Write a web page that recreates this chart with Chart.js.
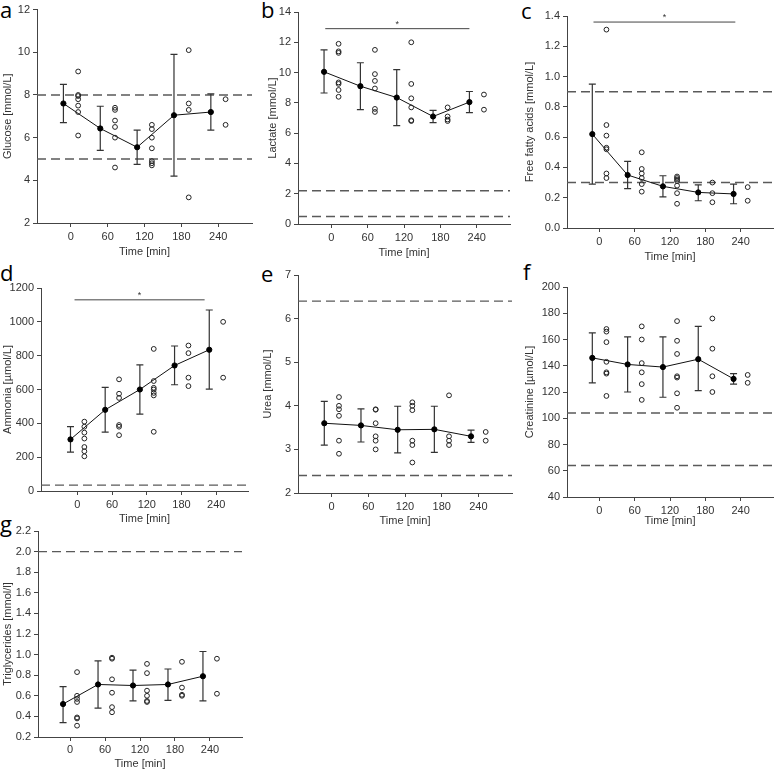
<!DOCTYPE html>
<html>
<head>
<meta charset="utf-8">
<script src="https://cdn.jsdelivr.net/npm/chart.js@4.4.0/dist/chart.umd.min.js"></script>
<style>
  body { margin: 0; background: #fff; width: 778px; height: 771px; position: relative; overflow: hidden; }
  canvas { position: absolute; }
  .letter { position: absolute; font-family: "Open Sans", "Liberation Sans", sans-serif; font-size: 22px; line-height: 22px; color: #000; }
</style>
</head>
<body>
<div class="letter" style="left:0px;top:-2px">a</div>
<div class="letter" style="left:261px;top:-2px">b</div>
<div class="letter" style="left:521px;top:-1px">c</div>
<div class="letter" style="left:0px;top:261px">d</div>
<div class="letter" style="left:261px;top:262px">e</div>
<div class="letter" style="left:523px;top:260px">f</div>
<div class="letter" style="left:0px;top:512px">g</div>

<script>
// sampling times, means are drawn a bit left of the tick, single values a bit right
const times = [0, 60, 120, 180, 240];
const meanShift = -12;
const dotShift = 12;

// a - glucose
const glucoseMean = [7.6, 6.43, 5.55, 7.05, 7.2];
const glucoseLo = [6.7, 5.4, 4.75, 4.2, 6.35];
const glucoseHi = [8.5, 7.47, 6.35, 9.9, 8.05];
const glucoseDots = [[9.1, 8.0, 7.95, 7.8, 7.5, 7.2, 6.1], [7.4, 7.3, 6.8, 6.5, 6.0, 4.6], [6.6, 6.4, 6.0, 5.5, 4.9, 4.8, 4.7], [10.1, 7.6, 7.3, 3.2], [7.8, 6.6]];
const glucoseRefs = [8, 5];

// b - lactate
const lactateMean = [10.05, 9.1, 8.35, 7.1, 8.05];
const lactateLo = [8.65, 7.55, 6.5, 6.7, 7.35];
const lactateHi = [11.5, 10.65, 10.2, 7.5, 8.75];
const lactateDots = [[11.9, 11.4, 11.3, 9.35, 9.25, 8.85, 8.4], [11.5, 9.9, 9.45, 8.95, 7.6, 7.4], [12.0, 9.25, 8.3, 7.7, 6.85, 6.8], [7.7, 7.1, 6.9, 6.8], [8.55, 7.55]];
const lactateRefs = [2.2, 0.5];

// c - free fatty acids
const ffaMean = [0.62, 0.35, 0.275, 0.235, 0.225];
const ffaLo = [0.29, 0.26, 0.205, 0.18, 0.16];
const ffaHi = [0.95, 0.44, 0.345, 0.285, 0.29];
const ffaDots = [[1.31, 0.68, 0.61, 0.53, 0.52, 0.36, 0.33], [0.5, 0.39, 0.36, 0.33, 0.29, 0.24], [0.34, 0.33, 0.32, 0.31, 0.28, 0.23, 0.16], [0.3, 0.23, 0.17], [0.27, 0.18]];
const ffaRefs = [0.9, 0.3];

// d - ammonia
const ammoniaMean = [305, 480, 600, 742, 835];
const ammoniaLo = [230, 348, 455, 628, 602];
const ammoniaHi = [380, 612, 745, 857, 1070];
const ammoniaDots = [[410, 380, 345, 310, 260, 235, 205], [660, 575, 550, 390, 380, 330], [840, 650, 610, 600, 580, 565, 350], [860, 815, 670, 620], [1000, 670]];
const ammoniaRefs = [35];

// e - urea
const ureaMean = [3.6, 3.55, 3.45, 3.46, 3.3];
const ureaLo = [3.1, 3.17, 2.92, 2.93, 3.16];
const ureaHi = [4.1, 3.93, 3.99, 3.99, 3.44];
const ureaDots = [[4.2, 4.0, 3.92, 3.77, 3.2, 2.9], [3.92, 3.91, 3.6, 3.3, 3.2, 3.0], [4.08, 4.0, 3.9, 3.2, 3.1, 2.7], [4.24, 3.3, 3.2, 3.1], [3.4, 3.2]];
const ureaRefs = [6.4, 2.4];

// f - creatinine
const creatMean = [146, 141, 139, 145, 130];
const creatLo = [127, 120, 116, 121, 126];
const creatHi = [165, 162, 162, 170, 134];
const creatDots = [[168, 166, 158, 143, 135, 134, 117], [170, 160, 142, 135, 126, 114], [174, 159, 149, 132, 131, 119, 108], [176, 153, 132, 120], [133, 127]];
const creatRefs = [104, 64];

// g - triglycerides
const trigMean = [0.52, 0.71, 0.7, 0.71, 0.79];
const trigLo = [0.34, 0.48, 0.55, 0.555, 0.55];
const trigHi = [0.69, 0.94, 0.85, 0.86, 1.03];
const trigDots = [[0.83, 0.6, 0.57, 0.54, 0.39, 0.38, 0.31], [0.97, 0.96, 0.76, 0.63, 0.49, 0.44], [0.91, 0.82, 0.65, 0.6, 0.55, 0.54], [0.93, 0.68, 0.61, 0.6], [0.96, 0.62]];
const trigRefs = [2.0];

// panel layout: canvas corner (cl, ct) and plot area (L, T, R, B) in page pixels
const panels = [
  { cl: 0, ct: 0, L: 37, T: 7, R: 255, B: 223, xh: 38, tpad: 1, title: 'Glucose [mmol/L]', ymin: 2, ymax: 12, step: 2, dec: 0,
    mean: glucoseMean, lo: glucoseLo, hi: glucoseHi, dots: glucoseDots, refs: glucoseRefs },
  { cl: 258, ct: 0, L: 298, T: 12, R: 513, B: 224, xh: 38, tpad: 8, title: 'Lactate [mmol/L]', ymin: 0, ymax: 14, step: 2, dec: 0,
    mean: lactateMean, lo: lactateLo, hi: lactateHi, dots: lactateDots, refs: lactateRefs, sig: { y: 12.9, x0: -10, x1: 228 } },
  { cl: 518, ct: 0, L: 567, T: 16, R: 776, B: 228, xh: 38, tpad: 5, title: 'Free fatty acids [mmol/L]', ymin: 0, ymax: 1.4, step: 0.2, dec: 1,
    mean: ffaMean, lo: ffaLo, hi: ffaHi, dots: ffaDots, refs: ffaRefs, sig: { y: 1.36, x0: -10, x1: 231 } },
  { cl: 0, ct: 250, L: 41, T: 288, R: 251, B: 491, xh: 37, tpad: 1, xmin: -63, title: 'Ammonia [\u00b5mol/L]', ymin: 0, ymax: 1200, step: 200, dec: 0,
    mean: ammoniaMean, lo: ammoniaLo, hi: ammoniaHi, dots: ammoniaDots, refs: ammoniaRefs, sig: { y: 1130, x0: -5, x1: 220 } },
  { cl: 258, ct: 250, L: 298, T: 275, R: 515, B: 493, xh: 37, tpad: 3, title: 'Urea [mmol/L]', ymin: 2, ymax: 7, step: 1, dec: 0,
    mean: ureaMean, lo: ureaLo, hi: ureaHi, dots: ureaDots, refs: ureaRefs },
  { cl: 518, ct: 250, L: 567, T: 287, R: 776, B: 497, xh: 33, tpad: 5, title: 'Creatinine [\u00b5mol/L]', ymin: 40, ymax: 200, step: 20, dec: 0,
    mean: creatMean, lo: creatLo, hi: creatHi, dots: creatDots, refs: creatRefs },
  { cl: 0, ct: 500, L: 38, T: 531, R: 245, B: 737, xh: 34, tpad: 1, tickPad: 2, titleBottom: 0, title: 'Triglycerides [mmol/l]', ymin: 0.2, ymax: 2.2, step: 0.2, dec: 1,
    mean: trigMean, lo: trigLo, hi: trigHi, dots: trigDots, refs: trigRefs }
];

// dashed reference lines, error bars and the significance bar
const extras = {
  id: 'extras',
  beforeDatasetsDraw(chart, args, opts) {
    const { ctx, chartArea: a, scales: { x, y } } = chart;
    ctx.save();
    ctx.strokeStyle = '#5a5a5a';
    ctx.lineWidth = 1.4;
    ctx.setLineDash([9, 5]);
    opts.refs.forEach(v => {
      const py = y.getPixelForValue(v);
      ctx.beginPath();
      ctx.moveTo(a.left, py);
      ctx.lineTo(a.right, py);
      ctx.stroke();
    });
    ctx.setLineDash([]);

    ctx.strokeStyle = '#333';
    ctx.lineWidth = 1.2;
    opts.lo.forEach((lo, i) => {
      const px = x.getPixelForValue(times[i] + meanShift);
      const p1 = y.getPixelForValue(lo);
      const p2 = y.getPixelForValue(opts.hi[i]);
      ctx.beginPath();
      ctx.moveTo(px, p1); ctx.lineTo(px, p2);
      ctx.moveTo(px - 3.5, p1); ctx.lineTo(px + 3.5, p1);
      ctx.moveTo(px - 3.5, p2); ctx.lineTo(px + 3.5, p2);
      ctx.stroke();
    });

    if (opts.sig) {
      const py = y.getPixelForValue(opts.sig.y);
      const x0 = x.getPixelForValue(opts.sig.x0);
      const x1 = x.getPixelForValue(opts.sig.x1);
      ctx.strokeStyle = '#444';
      ctx.lineWidth = 1;
      ctx.beginPath();
      ctx.moveTo(x0, py); ctx.lineTo(x1, py);
      ctx.stroke();
      ctx.fillStyle = '#333';
      ctx.font = '9px "Liberation Sans", Arial, sans-serif';
      ctx.textAlign = 'center';
      ctx.fillText('*', (x0 + x1) / 2, py - 2);
    }
    ctx.restore();
  }
};

panels.forEach(p => {
  const w = p.R - p.cl + 2;
  const h = p.B - p.ct + p.xh;
  const canvas = document.createElement('canvas');
  canvas.width = w;
  canvas.height = h;
  canvas.style.left = p.cl + 'px';
  canvas.style.top = p.ct + 'px';
  canvas.style.width = w + 'px';
  canvas.style.height = h + 'px';
  document.body.appendChild(canvas);

  const dotPoints = [];
  p.dots.forEach((vals, i) => vals.forEach(v => dotPoints.push({ x: times[i] + dotShift, y: v })));
  const meanPoints = p.mean.map((v, i) => ({ x: times[i] + meanShift, y: v }));

  new Chart(canvas, {
    type: 'scatter',
    data: {
      datasets: [
        {
          data: dotPoints,
          pointRadius: 2.4,
          pointBorderWidth: 1,
          pointBorderColor: '#222',
          pointBackgroundColor: 'rgba(255,255,255,0)',
          clip: false
        },
        {
          data: meanPoints,
          showLine: true,
          borderColor: '#111',
          borderWidth: 1,
          pointRadius: 2.6,
          pointBackgroundColor: '#000',
          pointBorderColor: '#000',
          clip: false
        }
      ]
    },
    options: {
      responsive: false,
      animation: false,
      layout: { padding: { top: p.T - p.ct, right: 2, left: 0, bottom: 0 } },
      plugins: {
        legend: { display: false },
        tooltip: { enabled: false },
        extras: { refs: p.refs, lo: p.lo, hi: p.hi, sig: p.sig }
      },
      scales: {
        x: {
          type: 'linear',
          min: p.xmin !== undefined ? p.xmin : -55,
          max: 295,
          afterBuildTicks: s => { s.ticks = times.map(v => ({ value: v })); },
          afterFit: s => { s.height = p.xh; },
          grid: { drawOnChartArea: false, tickLength: 4, color: '#444' },
          border: { color: '#444', width: 1 },
          ticks: { color: '#333', font: { family: '"Liberation Sans", Arial, sans-serif', size: 11 }, padding: p.tickPad !== undefined ? p.tickPad : 3, maxRotation: 0 },
          title: { display: true, text: 'Time [min]', color: '#333', font: { family: '"Liberation Sans", Arial, sans-serif', size: 11 }, padding: { top: 0, bottom: p.titleBottom !== undefined ? p.titleBottom : 2 } }
        },
        y: {
          min: p.ymin,
          max: p.ymax,
          afterFit: s => { s.width = p.L - p.cl; },
          grid: { drawOnChartArea: false, tickLength: 4, color: '#444' },
          border: { color: '#444', width: 1 },
          ticks: {
            stepSize: p.step,
            color: '#333',
            font: { family: '"Liberation Sans", Arial, sans-serif', size: 11 },
            padding: 3,
            callback: v => Number(v).toFixed(p.dec)
          },
          title: { display: true, text: p.title, color: '#333', font: { family: '"Liberation Sans", Arial, sans-serif', size: 11 }, padding: { top: p.tpad, bottom: 0 } }
        }
      }
    },
    plugins: [extras]
  });
});
</script>
</body>
</html>
